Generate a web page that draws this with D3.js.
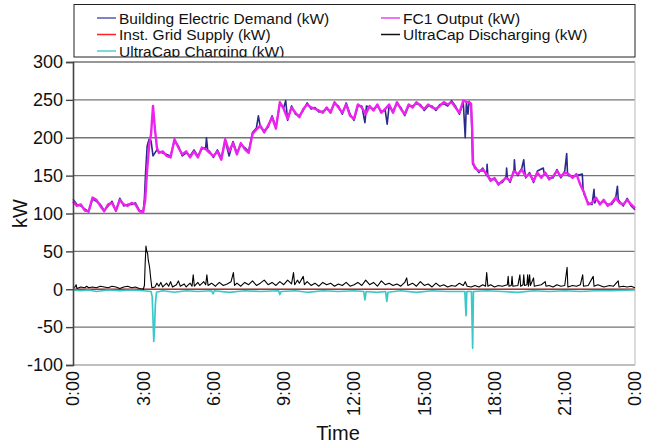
<!DOCTYPE html>
<html>
<head>
<meta charset="utf-8">
<script src="https://cdn.jsdelivr.net/npm/d3@7"></script>
<style>
  body { margin: 0; background: #fff; }
  svg text { font-family: "Liberation Sans", Arial, Helvetica, sans-serif; fill: #111; }
</style>
</head>
<body>
<script>
// [minute of day, kW]
var fc1 = [[0,116],[10,110],[20,112],[30,104],[40,103],[50,121],[60,118],[70,110],[80,103],[90,112],[100,114],[110,104],[120,118],[130,112],[140,110],[150,114],[160,112],[170,103],[180,102],[185,118],[190,158],[195,189],[200,205],[205,242],[210,211],[215,187],[220,180],[230,182],[240,176],[250,174],[260,198],[270,187],[280,178],[290,182],[300,174],[310,182],[320,174],[330,187],[340,185],[350,180],[360,176],[370,182],[380,171],[390,198],[400,182],[410,193],[420,178],[430,193],[440,185],[450,180],[460,205],[470,211],[480,216],[490,207],[500,216],[510,227],[520,212],[530,247],[540,238],[550,225],[560,240],[570,233],[580,227],[590,238],[600,244],[610,240],[620,238],[630,236],[640,233],[650,240],[660,233],[670,247],[680,240],[690,233],[700,244],[710,229],[720,225],[730,244],[740,240],[750,231],[760,242],[770,236],[780,244],[790,233],[800,238],[810,244],[820,233],[830,247],[840,238],[850,231],[860,244],[870,240],[880,247],[890,242],[900,238],[910,244],[920,240],[930,238],[940,242],[950,247],[960,244],[970,247],[980,240],[990,233],[1000,249],[1010,247],[1015,247],[1020,245],[1023,209],[1025,167],[1030,160],[1040,156],[1050,158],[1060,152],[1070,143],[1080,147],[1090,138],[1100,143],[1110,147],[1120,143],[1130,156],[1140,152],[1150,158],[1160,149],[1170,152],[1180,143],[1190,154],[1200,147],[1210,154],[1220,145],[1230,149],[1240,156],[1250,149],[1260,154],[1270,152],[1280,147],[1290,152],[1300,138],[1310,127],[1320,112],[1330,114],[1340,121],[1350,112],[1360,118],[1370,110],[1380,114],[1390,121],[1400,114],[1410,112],[1420,118],[1430,112],[1440,107]];

var demand = [[0,119],[10,112],[20,110],[30,106],[40,102],[50,119],[60,116],[70,112],[80,104],[90,110],[100,116],[110,103],[120,120],[130,110],[140,112],[150,112],[160,114],[170,104],[180,103],[183,120],[186,154],[190,189],[195,198],[200,196],[205,176],[210,180],[215,184],[220,182],[230,180],[240,178],[250,176],[260,196],[270,189],[280,176],[290,180],[300,176],[310,184],[320,176],[330,185],[340,187],[342,200],[345,184],[350,182],[360,174],[370,184],[380,173],[390,196],[400,176],[410,195],[420,180],[430,191],[440,187],[450,182],[460,207],[470,213],[475,229],[480,214],[490,209],[500,214],[510,229],[520,214],[530,245],[540,240],[545,249],[550,223],[560,242],[570,231],[580,229],[590,236],[600,246],[610,238],[620,240],[630,234],[640,235],[650,238],[660,235],[670,245],[680,242],[690,231],[700,246],[710,231],[720,223],[730,242],[740,242],[748,220],[752,242],[760,240],[770,238],[780,242],[790,235],[800,236],[805,218],[810,242],[820,235],[830,245],[840,240],[850,229],[860,242],[870,242],[880,245],[890,244],[900,236],[910,242],[920,242],[930,236],[940,244],[950,245],[960,242],[970,249],[980,242],[990,231],[1000,247],[1005,200],[1008,247],[1012,231],[1015,248],[1020,243],[1022,209],[1024,165],[1030,162],[1040,154],[1050,160],[1060,150],[1061,165],[1063,150],[1070,145],[1080,145],[1090,140],[1100,141],[1110,149],[1111,160],[1113,147],[1120,141],[1130,158],[1131,171],[1133,156],[1140,150],[1150,160],[1155,171],[1157,158],[1160,147],[1170,154],[1180,141],[1190,156],[1205,160],[1207,154],[1210,152],[1220,147],[1230,147],[1240,158],[1250,147],[1260,156],[1265,179],[1267,154],[1270,150],[1280,149],[1290,150],[1305,152],[1307,132],[1310,125],[1320,114],[1330,112],[1335,132],[1337,114],[1340,119],[1350,114],[1360,116],[1370,112],[1380,112],[1390,119],[1395,136],[1397,119],[1400,116],[1410,110],[1420,120],[1430,110],[1440,105]];

var gridSupply = [[0,0],[1440,0]];

var discharge = [[0,2],[5,3],[8,6],[10,1],[20,3],[30,2],[35,4],[40,2],[50,3],[60,2],[70,4],[80,3],[90,2],[100,4],[110,3],[120,1],[130,3],[140,4],[150,2],[160,3],[170,1],[180,0],[183,5],[185,35],[187,57],[189,50],[191,48],[193,38],[196,30],[199,15],[202,2],[210,3],[215,8],[220,4],[225,9],[230,3],[240,8],[245,4],[250,10],[255,3],[265,6],[270,11],[275,4],[285,7],[290,3],[300,8],[305,4],[308,19],[311,4],[320,9],[325,5],[335,10],[340,6],[343,19],[346,5],[355,8],[365,4],[375,9],[385,5],[395,7],[405,10],[411,22],[414,5],[420,8],[430,4],[440,9],[450,6],[460,11],[470,5],[480,8],[490,12],[500,6],[510,9],[520,5],[530,10],[540,6],[550,12],[560,7],[565,22],[568,6],[575,12],[580,8],[590,17],[593,6],[600,10],[610,5],[620,8],[630,4],[640,9],[650,6],[660,8],[670,4],[680,7],[690,5],[700,9],[710,4],[720,6],[730,9],[740,5],[750,12],[760,6],[770,9],[780,4],[790,11],[800,6],[810,8],[820,5],[830,7],[840,4],[850,9],[855,15],[858,5],[870,8],[880,4],[890,10],[900,5],[910,7],[920,3],[930,8],[940,4],[950,6],[960,3],[970,5],[980,4],[990,8],[1000,5],[1005,10],[1010,4],[1020,3],[1030,5],[1040,3],[1050,6],[1057,4],[1060,22],[1063,4],[1070,6],[1080,3],[1090,5],[1100,4],[1113,6],[1115,17],[1117,4],[1123,5],[1125,17],[1127,4],[1140,5],[1145,19],[1147,4],[1153,6],[1155,19],[1157,5],[1163,6],[1165,19],[1167,4],[1170,19],[1172,5],[1180,15],[1182,4],[1190,5],[1200,6],[1210,10],[1212,4],[1220,5],[1230,3],[1240,6],[1250,4],[1260,5],[1266,29],[1268,3],[1280,5],[1290,4],[1300,6],[1306,19],[1308,4],[1320,5],[1333,17],[1335,4],[1345,6],[1360,3],[1375,5],[1385,4],[1397,11],[1399,3],[1410,4],[1420,3],[1430,4],[1440,2]];

var charging = [[0,-1],[20,-2],[40,-1],[60,-3],[90,-1],[120,-2],[150,-1],[180,-2],[200,-3],[203,-10],[205,-40],[207,-69],[209,-50],[211,-20],[214,-4],[230,-2],[260,-4],[290,-2],[320,-3],[355,-2],[359,-6],[362,-2],[400,-4],[440,-2],[480,-3],[527,-2],[530,-7],[533,-3],[570,-2],[600,-4],[640,-2],[680,-3],[720,-2],[745,-3],[748,-14],[751,-3],[780,-4],[801,-3],[804,-16],[807,-4],[840,-2],[880,-4],[920,-2],[960,-3],[1004,-3],[1007,-35],[1009,-3],[1021,-3],[1024,-78],[1026,-3],[1060,-2],[1100,-3],[1140,-4],[1180,-2],[1220,-3],[1260,-2],[1300,-3],[1340,-2],[1380,-2],[1440,-1]];

var yTicks = [-100, -50, 0, 50, 100, 150, 200, 250, 300];
var xTicks = [0, 180, 360, 540, 720, 900, 1080, 1260, 1440];
var xTickLabels = ["0:00", "3:00", "6:00", "9:00", "12:00", "15:00", "18:00", "21:00", "0:00"];
var legendNames = ["Building Electric Demand (kW)", "FC1 Output (kW)", "Inst. Grid Supply (kW)", "UltraCap Discharging (kW)", "UltraCap Charging (kW)"];

var colors = {
  demand: "#2a2a8a",
  fc1: "#ee22ee",
  grid: "#ff0000",
  discharge: "#000000",
  charging: "#3cc8c8"
};
var legendColors = ["#5a5ab0", "#ee44ee", "#ff2222", "#111111", "#55cccc"];

var width = 645;
var height = 444;
var plotL = 73, plotR = 635, plotT = 62, plotB = 365;
var fontFam = '"Liberation Sans", Arial, Helvetica, sans-serif';

var svg = d3.select("body").append("svg")
  .attr("width", width)
  .attr("height", height)
  .attr("font-family", fontFam);
svg.append("rect").attr("width", width).attr("height", height).attr("fill", "#fff");

var x = d3.scaleLinear().domain([0, 1440]).range([plotL, plotR]);
var y = d3.scaleLinear().domain([-100, 300]).range([plotB, plotT]);

// horizontal grid
svg.append("g")
  .selectAll("line")
  .data(yTicks.filter((d) => d > -100))
  .enter()
  .append("line")
  .attr("x1", plotL)
  .attr("x2", plotR)
  .attr("y1", (d) => y(d))
  .attr("y2", (d) => y(d))
  .attr("stroke", "#747474")
  .attr("stroke-width", 1.4);

// bottom and right frame
svg.append("line").attr("x1", plotL).attr("x2", plotR).attr("y1", plotB).attr("y2", plotB)
  .attr("stroke", "#a8a8a8").attr("stroke-width", 1.4);
svg.append("line").attr("x1", plotR).attr("x2", plotR).attr("y1", plotT).attr("y2", plotB)
  .attr("stroke", "#c4c4c4").attr("stroke-width", 1.2);

var line = d3.line()
  .x((d) => x(d[0]))
  .y((d) => y(d[1]));

var series = [
  { data: gridSupply, color: colors.grid, w: 1 },
  { data: discharge, color: colors.discharge, w: 1.1 },
  { data: charging, color: colors.charging, w: 1.7 },
  { data: demand, color: colors.demand, w: 1.6 },
  { data: fc1, color: colors.fc1, w: 2.4 }
];
svg.append("g")
  .selectAll("path")
  .data(series)
  .enter()
  .append("path")
  .attr("d", (d) => line(d.data))
  .attr("fill", "none")
  .attr("stroke", (d) => d.color)
  .attr("stroke-width", (d) => d.w)
  .attr("stroke-linejoin", "round");

// left axis
var yAxis = svg.append("g")
  .attr("transform", "translate(" + plotL + ",0)")
  .call(d3.axisLeft(y).tickValues(yTicks).tickSize(7).tickPadding(3).tickFormat((d) => d));
yAxis.attr("font-family", fontFam).attr("font-size", 18);
yAxis.select(".domain").attr("stroke", "#444").attr("stroke-width", 1.6);
yAxis.selectAll(".tick line").attr("stroke", "#444").attr("stroke-width", 1.4);
yAxis.selectAll("text").attr("fill", "#111");

// rotated x labels
svg.append("g")
  .selectAll("text")
  .data(xTicks)
  .enter()
  .append("text")
  .attr("transform", (d) => "translate(" + x(d) + "," + (plotB + 6) + ") rotate(-90)")
  .attr("text-anchor", "end")
  .attr("dy", "0.36em")
  .attr("font-size", 18)
  .text((d, i) => xTickLabels[i]);

svg.append("text")
  .attr("x", 338)
  .attr("y", 440)
  .attr("text-anchor", "middle")
  .attr("font-size", 20)
  .text("Time");

svg.append("text")
  .attr("transform", "translate(27," + (plotT + plotB) / 2 + ") rotate(-90)")
  .attr("text-anchor", "middle")
  .attr("font-size", 20)
  .text("kW");

// legend
var legBox = { x: 74, y: 4.5, w: 561, h: 52.5 };
svg.append("clipPath").attr("id", "legclip")
  .append("rect").attr("x", legBox.x).attr("y", legBox.y).attr("width", legBox.w).attr("height", legBox.h);
var g_leg = svg.append("g").attr("id", "legend").attr("clip-path", "url(#legclip)");
g_leg.append("rect")
  .attr("x", legBox.x).attr("y", legBox.y).attr("width", legBox.w).attr("height", legBox.h)
  .attr("fill", "#fff");
var legPos = [[97, 23.5], [381, 23.5], [97, 40], [381, 40], [97, 56.5]];
var items = g_leg.selectAll("g.item")
  .data(legendNames)
  .enter()
  .append("g")
  .attr("class", "item")
  .attr("transform", (d, i) => "translate(" + legPos[i][0] + "," + legPos[i][1] + ")");
items.append("line")
  .attr("x1", 0).attr("x2", 19).attr("y1", -5.5).attr("y2", -5.5)
  .attr("stroke", (d, i) => legendColors[i])
  .attr("stroke-width", 1.6);
items.append("text")
  .attr("x", 22)
  .attr("font-size", 15.5)
  .text((d) => d);
svg.append("rect")
  .attr("x", legBox.x).attr("y", legBox.y).attr("width", legBox.w).attr("height", legBox.h)
  .attr("fill", "none").attr("stroke", "#222").attr("stroke-width", 1);
</script>
</body>
</html>
